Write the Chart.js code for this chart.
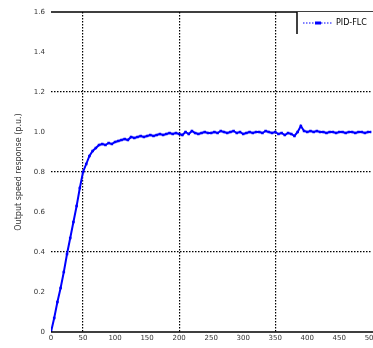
<!DOCTYPE html>
<html><head><meta charset="utf-8">
<script src="https://cdn.jsdelivr.net/npm/chart.js@4/dist/chart.umd.min.js"></script>
<style>
html,body{margin:0;padding:0;background:#fff;overflow:hidden;}
#wrap{width:373px;height:348px;overflow:hidden;position:relative;}
canvas{display:block;}
</style></head>
<body>
<div id="wrap"><canvas id="c" width="380" height="348"></canvas></div>
<script>
const seriesName = "PID-FLC";
const yTitle = "Output speed response (p.u.)";
const xTicks = [0,50,100,150,200,250,300,350,400,450,500];
const yTicks = [0,0.2,0.4,0.6,0.8,1,1.2,1.4,1.6];
const xGrid = [50,200,350];
const yGrid = [0.4,0.8,1.2];
const timeValues = [0,5,10,15,20,25,30,35,40,45,50,55,60,65,70,75,80,85,90,95,100,105,110,115,120,125,130,135,140,145,150,155,160,165,170,175,180,185,190,195,200,205,210,215,220,225,230,235,240,245,250,255,260,265,270,275,280,285,290,295,300,305,310,315,320,325,330,335,340,345,350,355,360,365,370,375,380,385,390,395,400,405,410,415,420,425,430,435,440,445,450,455,460,465,470,475,480,485,490,495,500];
const responseValues = [0,0.07,0.15,0.22,0.30,0.39,0.47,0.55,0.63,0.72,0.80,0.84,0.88,0.905,0.92,0.935,0.94,0.935,0.945,0.94,0.95,0.955,0.96,0.965,0.96,0.975,0.97,0.975,0.98,0.975,0.98,0.985,0.98,0.985,0.99,0.985,0.99,0.995,0.99,0.995,0.99,0.985,1.0,0.99,1.005,0.995,0.99,0.995,1.0,0.995,0.995,1.0,0.995,1.005,1.0,0.995,1.0,1.005,0.995,1.0,0.99,0.995,1.0,0.995,1.0,1.0,0.995,1.005,1.0,0.995,1.0,0.99,0.995,0.985,0.995,0.99,0.98,1.0,1.03,1.005,1.0,1.005,1.0,1.005,1.0,1.0,0.995,1.0,1.0,0.995,1.0,1.0,0.995,1.0,1.0,0.995,1.0,1.0,0.995,1.0,1.0];

const pts = timeValues.map((t,i)=>({x:t,y:responseValues[i]}));
const tickFont = {family:"'DejaVu Sans', sans-serif", size:7};

const framePlugin = {
  id:'frame',
  afterDraw(chart){
    const {ctx, chartArea:a} = chart;
    ctx.save();
    ctx.strokeStyle='#000'; ctx.lineWidth=1.5;
    ctx.beginPath();
    ctx.moveTo(a.left,a.top); ctx.lineTo(chart.width,a.top);
    ctx.moveTo(a.left,a.bottom); ctx.lineTo(chart.width,a.bottom);
    ctx.stroke();
    const lx=297, ly=a.top, lh=22;
    ctx.fillStyle='#fff';
    ctx.fillRect(lx,ly,chart.width-lx,lh);
    ctx.lineWidth=1.5; ctx.strokeStyle='#000';
    ctx.beginPath();
    ctx.moveTo(lx,ly); ctx.lineTo(lx,ly+lh);
    ctx.stroke();
    const ds = chart.data.datasets[0];
    ctx.strokeStyle=ds.borderColor; ctx.lineWidth=1;
    ctx.setLineDash([1.5,1.5]);
    ctx.beginPath(); ctx.moveTo(303,ly+11); ctx.lineTo(333,ly+11); ctx.stroke();
    ctx.setLineDash([]);
    ctx.fillStyle=ds.borderColor;
    ctx.fillRect(315,ly+9.5,6,3);
    ctx.fillStyle='#000';
    ctx.font="8px 'DejaVu Sans', sans-serif";
    ctx.textBaseline='middle';
    ctx.fillText(ds.label,336,ly+11);
    ctx.restore();
  }
};

new Chart(document.getElementById('c'),{
  type:'line',
  data:{datasets:[{label:seriesName,data:pts,borderColor:'#0000ff',backgroundColor:'#0000ff',borderWidth:2,pointRadius:1.8,pointStyle:'rect',pointBorderWidth:0,tension:0}]},
  options:{
    responsive:false,animation:false,
    layout:{padding:{top:12,right:0,left:0,bottom:0}},
    plugins:{legend:{display:false},tooltip:{enabled:false}},
    scales:{
      x:{type:'linear',min:0,max:500,
        afterBuildTicks(s){s.ticks=xTicks.map(v=>({value:v}));},
        afterFit(s){s.height=16;},
        ticks:{font:tickFont,color:'#333',maxRotation:0,padding:2,autoSkip:false},
        grid:{drawTicks:false,lineWidth:1.2,color:c=>xGrid.includes(c.tick&&c.tick.value)?'#000':'rgba(0,0,0,0)'},
        border:{display:false,dash:[1.5,1.5]}
      },
      y:{min:0,max:1.6,
        afterBuildTicks(s){s.ticks=yTicks.map(v=>({value:v}));},
        afterFit(s){s.width=51;},
        ticks:{font:tickFont,color:'#333',padding:6,autoSkip:false},
        title:{display:true,text:yTitle,font:{family:"'DejaVu Sans', sans-serif",size:8},color:'#333',padding:{top:14,bottom:0}},
        grid:{drawTicks:false,lineWidth:1.2,color:c=>yGrid.includes(c.tick&&c.tick.value)?'#000':'rgba(0,0,0,0)'},
        border:{display:false,dash:[1.5,1.5]}
      }
    }
  },
  plugins:[framePlugin]
});
</script>
</body></html>
